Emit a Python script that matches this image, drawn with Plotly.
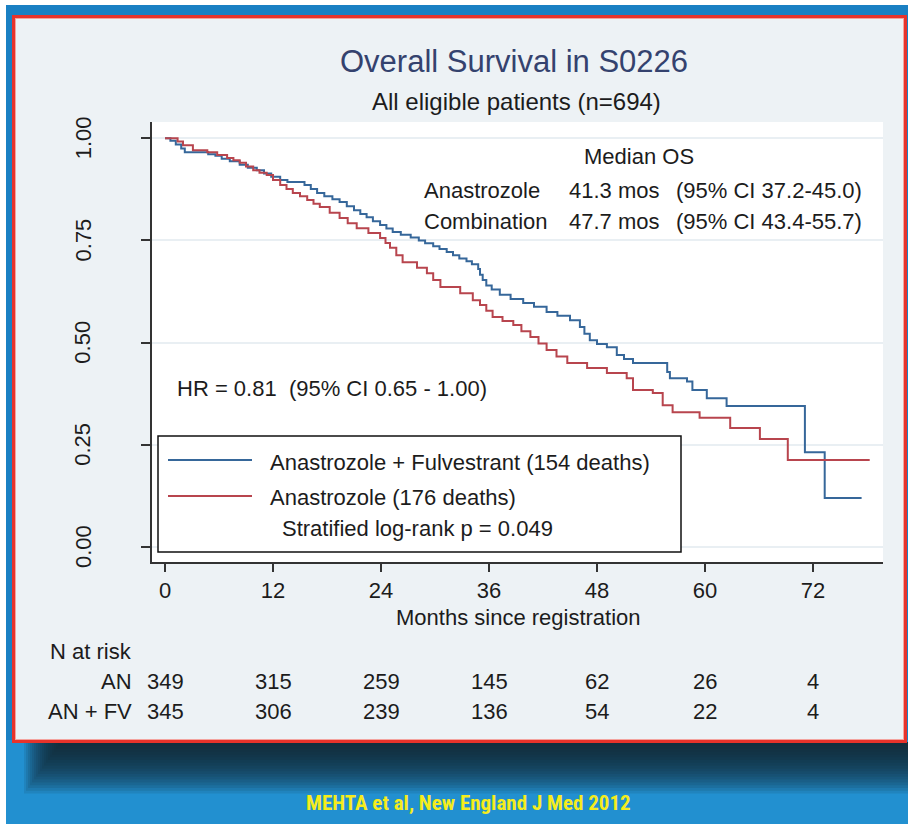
import plotly.graph_objects as go

# Kaplan-Meier steps: months since registration and survival probability
months_an_fv = [0, 0.6, 1.2, 1.8, 2.2, 4.8, 5.6, 6.3, 7.2, 8.3, 9.2, 10.2, 11.0, 11.8, 12.8,
                13.6, 15.5, 16.2, 16.9, 17.7, 18.6, 19.4, 20.2, 21.0, 21.7, 22.4, 23.1, 23.9,
                24.6, 25.3, 26.2, 27.3, 28.2, 28.9, 29.8, 30.5, 31.3, 32.0, 32.7, 33.5, 34.1,
                34.8, 35.0, 35.3, 35.7, 36.3, 37.2, 38.4, 39.8, 41.0, 42.4, 43.6, 45.0, 46.1,
                46.6, 47.2, 48.0, 49.1, 50.2, 51.0, 52.0, 55.8, 56.1, 58.0, 58.6, 60.2, 62.4,
                71.1, 73.3, 77.4]
surv_an_fv = [1.000, 0.994, 0.985, 0.975, 0.966, 0.961, 0.957, 0.950, 0.944, 0.935, 0.928,
              0.922, 0.914, 0.906, 0.898, 0.893, 0.886, 0.876, 0.866, 0.858, 0.851, 0.844,
              0.834, 0.824, 0.815, 0.807, 0.797, 0.788, 0.779, 0.771, 0.764, 0.757, 0.750,
              0.743, 0.736, 0.729, 0.722, 0.714, 0.706, 0.699, 0.692, 0.680, 0.666, 0.653,
              0.640, 0.630, 0.617, 0.607, 0.597, 0.588, 0.575, 0.566, 0.555, 0.538, 0.522,
              0.506, 0.497, 0.489, 0.470, 0.460, 0.450, 0.428, 0.413, 0.405, 0.384, 0.364,
              0.345, 0.232, 0.120, 0.120]

months_an = [0, 1.4, 2.0, 3.1, 4.7, 5.8, 6.9, 7.6, 8.3, 9.0, 9.8, 10.5, 11.3, 12.0, 12.8,
             13.5, 14.2, 15.0, 15.8, 16.5, 17.2, 18.3, 19.4, 20.3, 21.3, 22.6, 23.9, 24.5,
             25.0, 25.7, 26.4, 28.0, 29.1, 29.8, 30.6, 32.8, 34.2, 35.0, 35.7, 36.4, 37.5,
             38.7, 39.6, 40.6, 41.5, 42.4, 43.5, 44.7, 46.9, 49.1, 51.3, 52.0, 54.2, 55.3,
             56.4, 59.4, 62.8, 66.1, 69.2, 78.3]
surv_an = [1.000, 0.992, 0.983, 0.971, 0.966, 0.959, 0.952, 0.946, 0.940, 0.931, 0.922,
           0.916, 0.910, 0.898, 0.886, 0.876, 0.866, 0.858, 0.849, 0.840, 0.832, 0.818,
           0.805, 0.792, 0.780, 0.768, 0.756, 0.744, 0.732, 0.714, 0.697, 0.683, 0.670,
           0.653, 0.636, 0.621, 0.604, 0.592, 0.578, 0.563, 0.553, 0.543, 0.528, 0.514,
           0.498, 0.482, 0.466, 0.450, 0.438, 0.426, 0.413, 0.384, 0.377, 0.347, 0.330,
           0.316, 0.291, 0.264, 0.213, 0.213]

x_ticks = [0, 12, 24, 36, 48, 60, 72]
y_ticks = [0.0, 0.25, 0.50, 0.75, 1.00]
y_tick_labels = ["0.00", "0.25", "0.50", "0.75", "1.00"]

risk_an = [349, 315, 259, 145, 62, 26, 4]
risk_an_fv = [345, 306, 239, 136, 54, 22, 4]

legend_labels = ["Anastrozole + Fulvestrant (154 deaths)", "Anastrozole (176 deaths)"]
median_rows = [("Anastrozole", "41.3 mos", "(95% CI 37.2-45.0)"),
               ("Combination", "47.7 mos", "(95% CI 43.4-55.7)")]

BLUE = "#36679a"
RED = "#b8454e"
FONT = "Liberation Sans, Arial, sans-serif"
INK = "#1c1c1c"

W, H = 908, 824


def fx(px):
    return px / W


def fy(py):
    return 1 - py / H


def rect(x0, y0, x1, y1, fill, line=None, lw=0, layer="below", opacity=1.0):
    return dict(type="rect", xref="paper", yref="paper",
                x0=fx(x0), x1=fx(x1), y0=fy(y1), y1=fy(y0),
                fillcolor=fill, opacity=opacity, layer=layer,
                line=dict(color=line or fill, width=lw))


fig = go.Figure()
fig.add_trace(go.Scatter(x=months_an_fv, y=surv_an_fv, mode="lines", line_shape="hv",
                         line=dict(color=BLUE, width=2), name=legend_labels[0],
                         showlegend=False, hoverinfo="skip"))
fig.add_trace(go.Scatter(x=months_an, y=surv_an, mode="lines", line_shape="hv",
                         line=dict(color=RED, width=2), name=legend_labels[1],
                         showlegend=False, hoverinfo="skip"))

shapes = [
    rect(6, 5, 908, 824, "#1a80c3"),
    rect(6, 740, 908, 824, "#2290d0"),
]
# soft dark shadow under the panel
for i in range(18):
    shapes.append(rect(58 - i * 2.0, 742, 908, 746 + i * 2.8, "#16222b", opacity=0.11))
shapes += [
    rect(12, 15, 907, 743, "#e8332b"),
    rect(15, 18, 904, 740, "#f3a49f"),
    rect(16, 19, 903, 739, "#edf2f5"),
    rect(152, 122, 883, 562, "#ffffff"),
]
# legend box with line samples
shapes.append(rect(158, 436, 681, 552, "#ffffff", line="#111111", lw=1.5, layer="above"))
shapes.append(dict(type="line", xref="paper", yref="paper", x0=fx(168), x1=fx(252),
                   y0=fy(460), y1=fy(460), line=dict(color=BLUE, width=2), layer="above"))
shapes.append(dict(type="line", xref="paper", yref="paper", x0=fx(168), x1=fx(252),
                   y0=fy(496), y1=fy(496), line=dict(color=RED, width=2), layer="above"))

ann = []


def text(x, y, s, size=22, color=INK, xanchor="center", xref="paper", angle=0,
         family=FONT, bold=False):
    ann.append(dict(x=x if xref != "paper" else fx(x), y=fy(y), xref=xref, yref="paper",
                    text=f"<b>{s}</b>" if bold else s, showarrow=False,
                    xanchor=xanchor, yanchor="middle", textangle=angle,
                    font=dict(family=family, size=size, color=color)))


text(514, 62, "Overall Survival in S0226", size=31, color="#34426e")
text(516, 101, "All eligible patients (n=694)", size=24)

text(639, 157, "Median OS", size=22)
for (name, med, ci), yy in zip(median_rows, [190, 221]):
    text(422, yy, name, xanchor="left")
    text(567, yy, med, xanchor="left")
    text(674, yy, ci, xanchor="left")

text(175, 389, "HR = 0.81&#160;&#160;(95% CI 0.65 - 1.00)", xanchor="left")

text(268, 462, legend_labels[0], xanchor="left")
text(268, 497, legend_labels[1], xanchor="left")
text(280, 528, "Stratified log-rank p = 0.049", xanchor="left")

for v, lab in zip(y_ticks, y_tick_labels):
    ann.append(dict(x=fx(83), y=v, xref="paper", yref="y", text=lab, showarrow=False,
                    textangle=-90, xanchor="center", yanchor="middle",
                    font=dict(family=FONT, size=22, color=INK)))

text(518, 617, "Months since registration", size=22)
text(48, 651, "N at risk", xanchor="left")
text(134, 681, "AN", xanchor="right")
text(134, 711, "AN + FV", xanchor="right")
for t, a, b in zip(x_ticks, risk_an, risk_an_fv):
    text(t, 681, str(a), xref="x")
    text(t, 711, str(b), xref="x")

text(468, 803, "MEHTA et al, New England J Med 2012", size=21, color="#f5ec1c",
     family="Liberation Sans Narrow, Roboto Condensed, Liberation Sans, sans-serif", bold=True)

px_per_month = 9.0
px_per_unit = 408.7
fig.update_layout(
    width=W, height=H, margin=dict(l=0, r=0, t=0, b=0),
    paper_bgcolor="#ffffff", plot_bgcolor="rgba(0,0,0,0)",
    shapes=shapes, annotations=ann, showlegend=False,
    xaxis=dict(domain=[fx(152), fx(883)],
               range=[(152 - 165) / px_per_month, (883 - 165) / px_per_month],
               tickvals=x_ticks, ticks="outside", ticklen=8, tickwidth=1.5,
               tickcolor="#333333", showline=True, linecolor="#333333", linewidth=1.5,
               showgrid=False, zeroline=False,
               tickfont=dict(family=FONT, size=22, color=INK)),
    yaxis=dict(domain=[fy(562), fy(122)],
               range=[-(562 - 547) / px_per_unit, (547 - 122) / px_per_unit],
               tickvals=y_ticks, showticklabels=False, ticks="outside", ticklen=9,
               tickwidth=1.5, tickcolor="#333333", showline=True, linecolor="#333333",
               linewidth=1.5, showgrid=True, gridcolor="#e9eff3", gridwidth=1.5,
               zeroline=False),
)

fig.write_html("out.html")
